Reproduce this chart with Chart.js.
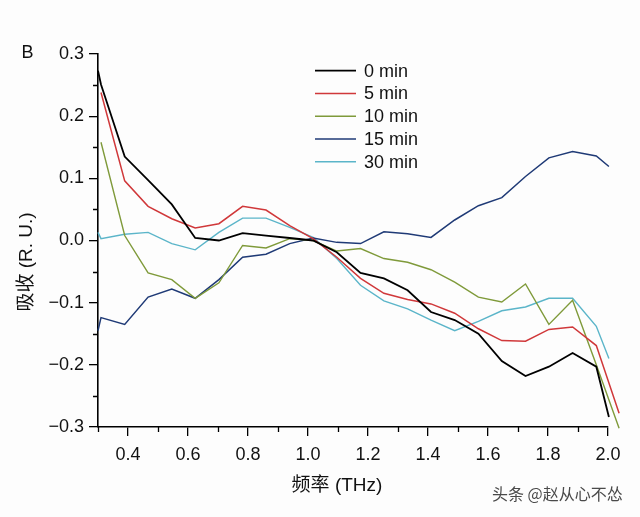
<!DOCTYPE html>
<html><head><meta charset="utf-8">
<script src="https://cdn.jsdelivr.net/npm/chart.js@4/dist/chart.umd.min.js"></script>
<style>html,body{margin:0;padding:0;background:#fdfdfd;}canvas{display:block}</style>
</head><body>
<canvas id="c" width="640" height="517"></canvas>
<script>
// frequency grid (THz)
const freq = [0.30, 0.31, 0.389, 0.467, 0.546, 0.624, 0.703, 0.782, 0.860, 0.939, 1.017, 1.096, 1.175, 1.253, 1.332, 1.410, 1.489, 1.568, 1.646, 1.725, 1.803, 1.882, 1.961, 2.003, 2.037];
const seriesNames = ['0 min', '5 min', '10 min', '15 min', '30 min'];
const min0  = [0.273, 0.251, 0.135, 0.097, 0.058, 0.004, 0.000, 0.012, 0.008, 0.004, 0.000, -0.019, -0.052, -0.061, -0.080, -0.115, -0.128, -0.150, -0.194, -0.218, -0.203, -0.181, -0.203, -0.284, null];
const min5  = [null, 0.238, 0.096, 0.055, 0.035, 0.020, 0.027, 0.055, 0.049, 0.024, 0.003, -0.027, -0.061, -0.085, -0.095, -0.102, -0.117, -0.142, -0.161, -0.162, -0.143, -0.139, -0.169, null, -0.278];
const min10 = [null, 0.158, 0.008, -0.052, -0.063, -0.093, -0.068, -0.008, -0.012, 0.003, 0.000, -0.017, -0.013, -0.029, -0.035, -0.047, -0.067, -0.091, -0.099, -0.070, -0.135, -0.096, -0.200, null, -0.302];
const min15 = [-0.145, -0.124, -0.135, -0.091, -0.078, -0.093, -0.063, -0.027, -0.022, -0.005, 0.004, -0.003, -0.005, 0.014, 0.011, 0.005, 0.033, 0.056, 0.069, 0.103, 0.133, 0.143, 0.136, 0.119, null];
const min30 = [0.013, 0.003, 0.010, 0.013, -0.005, -0.015, 0.013, 0.036, 0.036, 0.021, 0.005, -0.029, -0.072, -0.097, -0.110, -0.128, -0.145, -0.130, -0.113, -0.107, -0.093, -0.093, -0.138, -0.190, null];
const xMajor = [0.4, 0.6, 0.8, 1.0, 1.2, 1.4, 1.6, 1.8, 2.0];
const xMinor = [0.3, 0.5, 0.7, 0.9, 1.1, 1.3, 1.5, 1.7, 1.9];
const yMajor = [-0.3, -0.2, -0.1, 0.0, 0.1, 0.2, 0.3];
const yMinor = [-0.25, -0.15, -0.05, 0.05, 0.15, 0.25];

const colors = ['#000000', '#d0383a', '#7f9a3a', '#1f3a76', '#5bb5c9'];
const widths = [1.8, 1.5, 1.4, 1.5, 1.4];
const allSeries = [min0, min5, min10, min15, min30];
const FONT = '"Liberation Sans", Arial, "Noto Sans CJK SC", sans-serif';

function pts(arr) {
  const out = [];
  arr.forEach((v, i) => { if (v !== null) out.push({x: freq[i], y: v}); });
  return out;
}

const extras = {
  id: 'extras',
  afterDraw(chart) {
    const ctx = chart.ctx;
    const xs = chart.scales.x, ys = chart.scales.y;
    const area = chart.chartArea;
    ctx.save();
    // minor ticks
    ctx.strokeStyle = '#000';
    ctx.lineWidth = 1.3;
    ctx.beginPath();
    xMinor.forEach(v => {
      const px = Math.round(xs.getPixelForValue(v)) + 0.5;
      ctx.moveTo(px, area.bottom); ctx.lineTo(px, area.bottom + 5);
    });
    yMinor.forEach(v => {
      const py = Math.round(ys.getPixelForValue(v)) + 0.5;
      ctx.moveTo(area.left, py); ctx.lineTo(area.left - 5, py);
    });
    ctx.stroke();
    // legend
    ctx.font = '18px ' + FONT;
    ctx.textBaseline = 'middle';
    ctx.textAlign = 'left';
    chart.data.datasets.forEach((ds, i) => {
      const y = 70.7 + i * 22.75;
      ctx.strokeStyle = ds.borderColor;
      ctx.lineWidth = ds.borderWidth;
      ctx.beginPath(); ctx.moveTo(315, y); ctx.lineTo(356, y); ctx.stroke();
      ctx.fillStyle = '#111';
      ctx.fillText(ds.label, 364, y + 1);
    });
    // panel letter
    ctx.font = '18px ' + FONT;
    ctx.fillStyle = '#111';
    ctx.textAlign = 'center';
    ctx.fillText('B', 27.5, 53);
    // axis titles
    ctx.font = '19px ' + FONT;
    ctx.fillText('频率 (THz)', 337, 486);
    ctx.save();
    ctx.translate(27, 262);
    ctx.rotate(-Math.PI / 2);
    ctx.fillText('吸收 (R. U.)', 0, 0);
    ctx.restore();
    // watermark
    ctx.font = '16px "Noto Sans CJK SC", sans-serif';
    ctx.textAlign = 'left';
    ctx.fillStyle = '#4a4a4a';
    ctx.fillText('头条 @赵从心不怂', 492, 494);
    ctx.restore();
  }
};

new Chart(document.getElementById('c'), {
  type: 'line',
  data: {
    datasets: allSeries.map((s, i) => ({
      label: seriesNames[i],
      data: pts(s),
      borderColor: colors[i],
      backgroundColor: colors[i],
      borderWidth: widths[i],
      pointRadius: 0,
      tension: 0,
      fill: false,
      clip: false
    }))
  },
  options: {
    responsive: false,
    animation: false,
    parsing: true,
    layout: {padding: {left: 0, right: 32, top: 54, bottom: 0}},
    plugins: {legend: {display: false}, tooltip: {enabled: false}},
    scales: {
      x: {
        type: 'linear', min: 0.3, max: 2.0,
        afterBuildTicks: s => { s.ticks = xMajor.map(v => ({value: v})); },
        afterFit: s => { s.height = 90; },
        grid: {display: true, drawOnChartArea: false, drawTicks: true, tickLength: 9, color: '#000', lineWidth: 1.3},
        border: {display: true, color: '#000', width: 1.6},
        ticks: {color: '#111', font: {family: FONT, size: 18}, padding: 8, maxRotation: 0, autoSkip: false,
          callback: v => v.toFixed(1)}
      },
      y: {
        type: 'linear', min: -0.3, max: 0.3,
        afterBuildTicks: s => { s.ticks = yMajor.map(v => ({value: v})); },
        afterFit: s => { s.width = 98; },
        grid: {display: true, drawOnChartArea: false, drawTicks: true, tickLength: 9, color: '#000', lineWidth: 1.3},
        border: {display: true, color: '#000', width: 1.6},
        ticks: {color: '#111', font: {family: FONT, size: 18}, padding: 5, autoSkip: false,
          callback: v => (Math.abs(v) < 1e-9 ? '0.0' : (v < 0 ? '\u2212' + Math.abs(v).toFixed(1) : v.toFixed(1)))}
      }
    }
  },
  plugins: [extras]
});
</script>
</body></html>
